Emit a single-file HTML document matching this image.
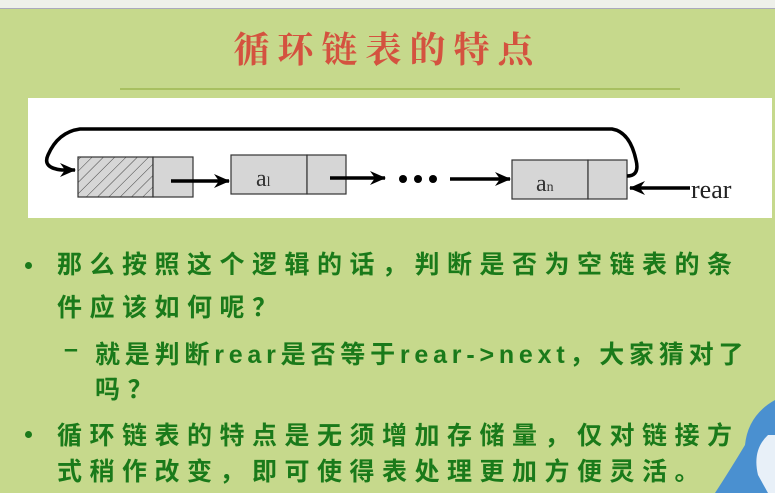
<!DOCTYPE html>
<html><head><meta charset="utf-8"><style>
body{margin:0;width:775px;height:493px;overflow:hidden;background:#c6d98c;position:relative;font-family:"Liberation Sans","Noto Serif CJK SC",serif}
.top{position:absolute;left:0;top:0;width:775px;height:8px;background:#eef0ea;border-bottom:1px solid #aab}
.title{position:absolute;left:0;width:775px;top:22px;text-align:center;color:#d4523f;font-size:36px;font-weight:bold;letter-spacing:8px;font-family:"Noto Serif CJK SC",serif}
.hr{position:absolute;left:120px;width:560px;top:88px;height:2px;background:#a8c060}
.box{position:absolute;left:28px;top:98px;width:744px;height:120px;background:#fff}
.t{position:absolute;color:#1a7a1a;font-size:25px;font-weight:bold;letter-spacing:7.5px;white-space:nowrap;font-family:"Liberation Sans","Noto Sans CJK SC",sans-serif}
.b{position:absolute;width:7px;height:7px;border-radius:50%;background:#1a7a1a}
</style></head><body>
<div class="top"></div>
<div class="title">循环链表的特点</div>
<div class="hr"></div>
<div class="box"></div>
<svg style="position:absolute;left:0;top:0" width="775" height="230">
<defs><pattern id="h" width="8" height="8" patternUnits="userSpaceOnUse" patternTransform="rotate(45)"><rect width="8" height="8" fill="#d6d6d6"/><line x1="0" y1="0" x2="0" y2="8" stroke="#444" stroke-width="1"/></pattern>
<marker id="a" markerWidth="16" markerHeight="14" refX="15" refY="7" orient="auto" markerUnits="userSpaceOnUse"><path d="M0,0 L16,7 L0,14 L5,7z" fill="#000"/></marker></defs>
<g stroke="#333" stroke-width="1.2">
<rect x="78" y="157" width="75" height="40" fill="url(#h)"/><rect x="153" y="157" width="40" height="40" fill="#d6d6d6"/>
<rect x="231" y="155" width="76" height="39" fill="#d6d6d6"/><rect x="307" y="155" width="39" height="39" fill="#d6d6d6"/>
<rect x="512" y="160" width="76" height="39" fill="#d6d6d6"/><rect x="588" y="160" width="39" height="39" fill="#d6d6d6"/>
</g>
<g stroke="#000" stroke-width="3.5" fill="none">
<path d="M627,176 Q640,176 636,160 Q630,132 612,129 L80,129 Q58,132 48,155 Q42,168 62,170 L75,170" marker-end="url(#a)"/>
<line x1="171" y1="181" x2="229" y2="181" marker-end="url(#a)"/>
<line x1="330" y1="178" x2="385" y2="178" marker-end="url(#a)"/>
<line x1="450" y1="179" x2="510" y2="179" marker-end="url(#a)"/>
<line x1="690" y1="188" x2="630" y2="188" marker-end="url(#a)"/>
</g>
<circle cx="403" cy="179" r="4"/><circle cx="418" cy="179" r="4"/><circle cx="433" cy="179" r="4"/>
<text x="256" y="186" font-family="Liberation Serif" font-size="24" fill="#333">a<tspan font-size="14">l</tspan></text>
<text x="536" y="191" font-family="Liberation Serif" font-size="24" fill="#333">a<tspan font-size="14">n</tspan></text>
<text x="691" y="198" font-family="Liberation Serif" font-size="26" fill="#222">rear</text>
</svg>
<div class="b" style="left:25px;top:262px"></div>
<div class="t" style="left:57px;top:245px">那么按照这个逻辑的话，判断是否为空链表的条</div>
<div class="t" style="left:57px;top:288px">件应该如何呢？</div>
<div class="t" style="left:64px;top:335px">–</div>
<div class="t" style="left:95px;top:335px;letter-spacing:4.8px">就是判断rear是否等于rear-&gt;next，大家猜对了</div>
<div class="t" style="left:95px;top:370px">吗？</div>
<div class="b" style="left:25px;top:431px"></div>
<div class="t" style="left:57px;top:416px">循环链表的特点是无须增加存储量，仅对链接方</div>
<div class="t" style="left:57px;top:452px">式稍作改变，即可使得表处理更加方便灵活。</div>
<svg style="position:absolute;left:700px;top:400px" width="75" height="93"><path d="M75,0 Q48,15 45,45 Q30,70 15,93 L75,93z" fill="#4a90d0"/><path d="M68,35 Q52,50 58,75 L68,93 L75,93 L75,35z" fill="#e8f0f8"/></svg>
</body></html>
